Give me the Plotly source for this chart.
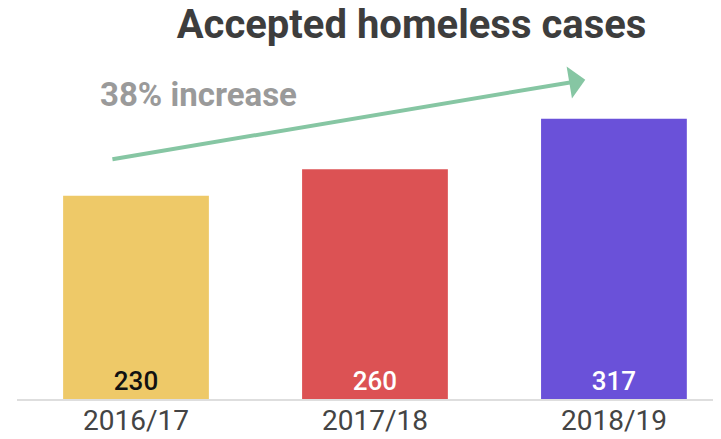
import plotly.graph_objects as go

categories = ["2016/17", "2017/18", "2018/19"]
values = [230, 260, 317]
bar_colors = ["#EEC968", "#DC5254", "#6A51D9"]
label_colors = ["#111111", "#FFFFFF", "#FFFFFF"]
title_text = "Accepted homeless cases"
increase_text = "38% increase"

# the page body adds an 8px margin, so the figure is drawn 8px smaller
W, H = 713, 431

fig = go.Figure()
fig.add_trace(go.Bar(
    x=categories, y=values,
    marker=dict(color=bar_colors, line=dict(width=0)),
    width=0.61,
    text=[str(v) for v in values],
    textposition="inside",
    insidetextanchor="start",
    textfont=dict(family="Roboto", size=26, color=label_colors, weight=500),
    textangle=0,
    hoverinfo="skip",
))

fig.add_annotation(
    x=1.88, y=361, ax=-0.105, ay=271,
    xref="x", yref="y", axref="x", ayref="y",
    showarrow=True, arrowhead=1, arrowsize=1.35, arrowwidth=4,
    arrowcolor="#86C6A3", text="",
)
fig.add_annotation(
    x=0.262, y=345, xref="x", yref="y",
    text=increase_text, showarrow=False,
    font=dict(family="Roboto", size=33, color="#9A9A9A", weight="bold"),
)

fig.update_layout(
    width=W, height=H,
    margin=dict(l=9, r=0, t=0, b=H - 391, autoexpand=False),
    paper_bgcolor="white", plot_bgcolor="white",
    showlegend=False,
    title=dict(
        text=title_text, xref="container", yref="container",
        x=403.5 / W, y=1 - 16 / H, xanchor="center", yanchor="middle",
        font=dict(family="Roboto", size=40, color="#3D3D3D", weight="bold"),
    ),
    xaxis=dict(
        range=[-0.498, 2.448], showgrid=False, zeroline=False,
        showline=True, linecolor="#DEDEDE", linewidth=1.5,
        ticks="", tickfont=dict(family="Roboto", size=28, color="#444444"),
        ticklabelstandoff=-4,
        fixedrange=True, automargin=False,
    ),
    yaxis=dict(range=[0, 442.3], visible=False, fixedrange=True),
)

fig.write_html("out.html")
